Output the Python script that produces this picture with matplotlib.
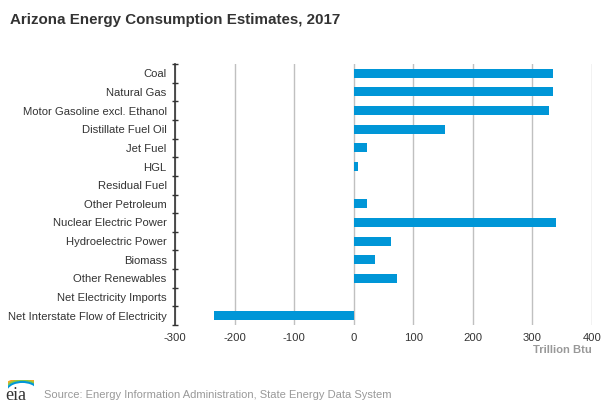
import numpy as np
import matplotlib.pyplot as plt
from matplotlib.patches import Arc

plt.rcParams['font.family'] = ['Liberation Sans', 'DejaVu Sans']

###############################################################################
# Dados
###############################################################################
categorias = ['Coal', 'Natural Gas', 'Motor Gasoline excl. Ethanol',
              'Distillate Fuel Oil', 'Jet Fuel', 'HGL', 'Residual Fuel',
              'Other Petroleum', 'Nuclear Electric Power', 'Hydroelectric Power',
              'Biomass', 'Other Renewables', 'Net Electricity Imports',
              'Net Interstate Flow of Electricity']
valores = [335, 335, 327, 153, 23, 7, 0, 23, 339, 63, 36, 72, 0, -234]
x_ticks = [-300, -200, -100, 0, 100, 200, 300, 400]

###############################################################################
fig = plt.figure(figsize=(6.12, 4.08), dpi=100)
ax = fig.add_axes([175/612, 1-325/408, (592-175)/612, (325-64)/408])

y = np.arange(len(categorias))
ax.barh(y, valores, height=0.48, color='#0096d7', zorder=3)
ax.set_ylim(len(categorias)-0.5, -0.5)
ax.set_xlim(-300, 400)
ax.set_xticks(x_ticks)
ax.set_xticklabels([str(t) for t in x_ticks], fontsize=8.1, color='#333333')
ax.set_yticks(np.arange(len(categorias)+1)-0.5, minor=False)
ax.set_yticklabels([])
ax.set_yticks(y, minor=True)
ax.set_yticklabels(categorias, minor=True, fontsize=8.1, color='#333333')
ax.tick_params(axis='y', which='major', length=4, color='#333333', width=1,
               direction='inout')
ax.tick_params(axis='y', which='minor', length=0, pad=6)
ax.tick_params(axis='x', length=0, pad=6)
ax.grid(axis='x', color='#c0c0c0', linewidth=1, zorder=0)
for s in ['top', 'right', 'bottom']:
    ax.spines[s].set_visible(False)
ax.spines['left'].set_color('#333333')
ax.spines['left'].set_linewidth(1.2)

fig.text(592/612, 1-350/408, 'Trillion Btu', ha='right', va='center',
         fontsize=8.1, fontweight='bold', color='#999999')
fig.text(10/612, 1-20/408, 'Arizona Energy Consumption Estimates, 2017',
         ha='left', va='center', fontsize=10.9, fontweight='bold', color='#333333')
fig.text(44/612, 1-395/408,
         'Source: Energy Information Administration, State Energy Data System',
         ha='left', va='center', fontsize=8, color='#999999')

# logo eia
fig.text(5/612, 1-396/408, 'eia', ha='left', va='center', fontsize=13,
         family='Liberation Serif', color='#333333')
lax = fig.add_axes([8/612, 1-392/408, 26/612, 12/408])
lax.set_xlim(0, 1); lax.set_ylim(0, 1); lax.axis('off')
for c, r in zip(['#f5a623', '#8dc63f', '#0096d7'], [0.9, 0.8, 0.7]):
    lax.add_patch(Arc((0.55, 0.0), 2*r*0.9, 2*r*1.2, theta1=30, theta2=150,
                      color=c, linewidth=1.5))

fig.savefig('out.png', dpi=100)
